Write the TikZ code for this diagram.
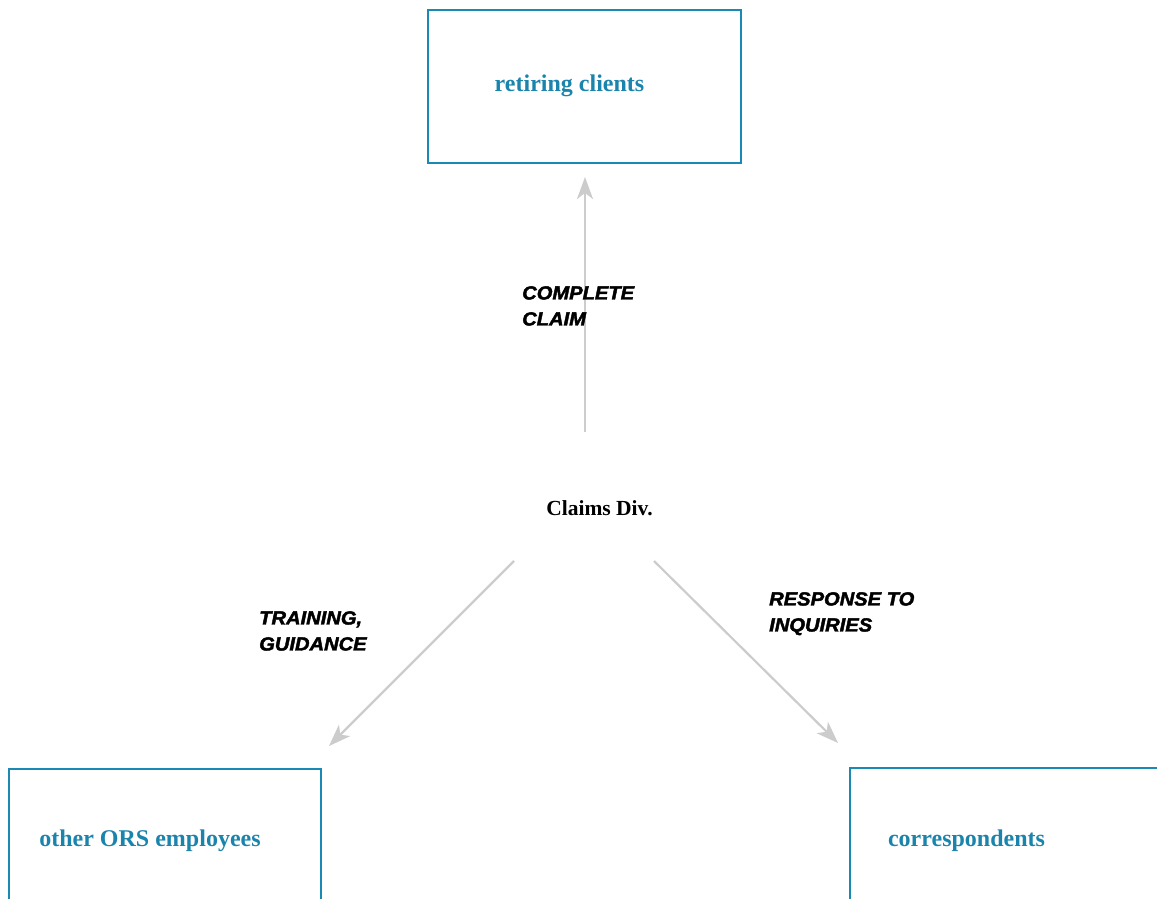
\documentclass[tikz,border=0pt]{standalone}
\usepackage{fontspec}
\setmainfont{Liberation Serif}
\newfontfamily\lblfont[BoldItalicFeatures={FakeBold=2.2,FakeStretch=1.06}]{Liberation Sans}
\usetikzlibrary{arrows.meta}
\definecolor{boxblue}{HTML}{1A8AB4}
\definecolor{txtblue}{HTML}{1B84AC}
\definecolor{arrowgray}{HTML}{CCCCCC}
\tikzset{
  entbox/.style={draw=boxblue, line width=1.3pt, rectangle, inner sep=0pt},
  enttext/.style={text=txtblue, font=\bfseries\fontsize{24}{28}\selectfont, inner sep=0pt},
  flow/.style={draw=arrowgray, line width=2.2pt, -{Stealth[length=22pt,width=16pt,inset=6pt]}},
  flowlbl/.style={font=\lblfont\bfseries\itshape\fontsize{19}{26}\selectfont, align=left, anchor=north west, inner sep=0pt},
  centre/.style={font=\bfseries\fontsize{21.5}{25}\selectfont, inner sep=0pt}
}
\begin{document}
\begin{tikzpicture}[x=1pt,y=-1pt]
\useasboundingbox (0,0) rectangle (1157,899);
\clip (0,0) rectangle (1157,899);
% boxes
\node[entbox, minimum width=313pt, minimum height=153pt] (rcbox) at (584.5,86.5) {};
\node[enttext] (rc) at (569.5,86) {retiring clients};
\node[entbox, minimum width=312pt, minimum height=200pt] (orsbox) at (165,869) {};
\node[enttext] (ors) at (150,841) {other ORS employees};
\node[entbox, minimum width=320pt, minimum height=200pt] (corbox) at (1010,868) {};
\node[enttext] (cor) at (966.5,841) {correspondents};
% centre
\node[centre] (claims) at (599.5,508) {Claims Div.};
% arrow endpoints
\coordinate (a1s) at (585,432);
\coordinate (a1e) at (585,177);
\coordinate (a2s) at (514,561);
\coordinate (a2e) at (329,746);
\coordinate (a3s) at (654,561);
\coordinate (a3e) at (838,743);
\draw[flow] (a1s) -- (a1e);
\draw[flow] (a2s) -- (a2e);
\draw[flow] (a3s) -- (a3e);
% labels
\node[flowlbl] (l1) at (522,286) {COMPLETE\\CLAIM};
\node[flowlbl] (l2) at (259,611) {TRAINING,\\GUIDANCE};
\node[flowlbl] (l3) at (769,592) {RESPONSE TO\\INQUIRIES};
\end{tikzpicture}
\end{document}
